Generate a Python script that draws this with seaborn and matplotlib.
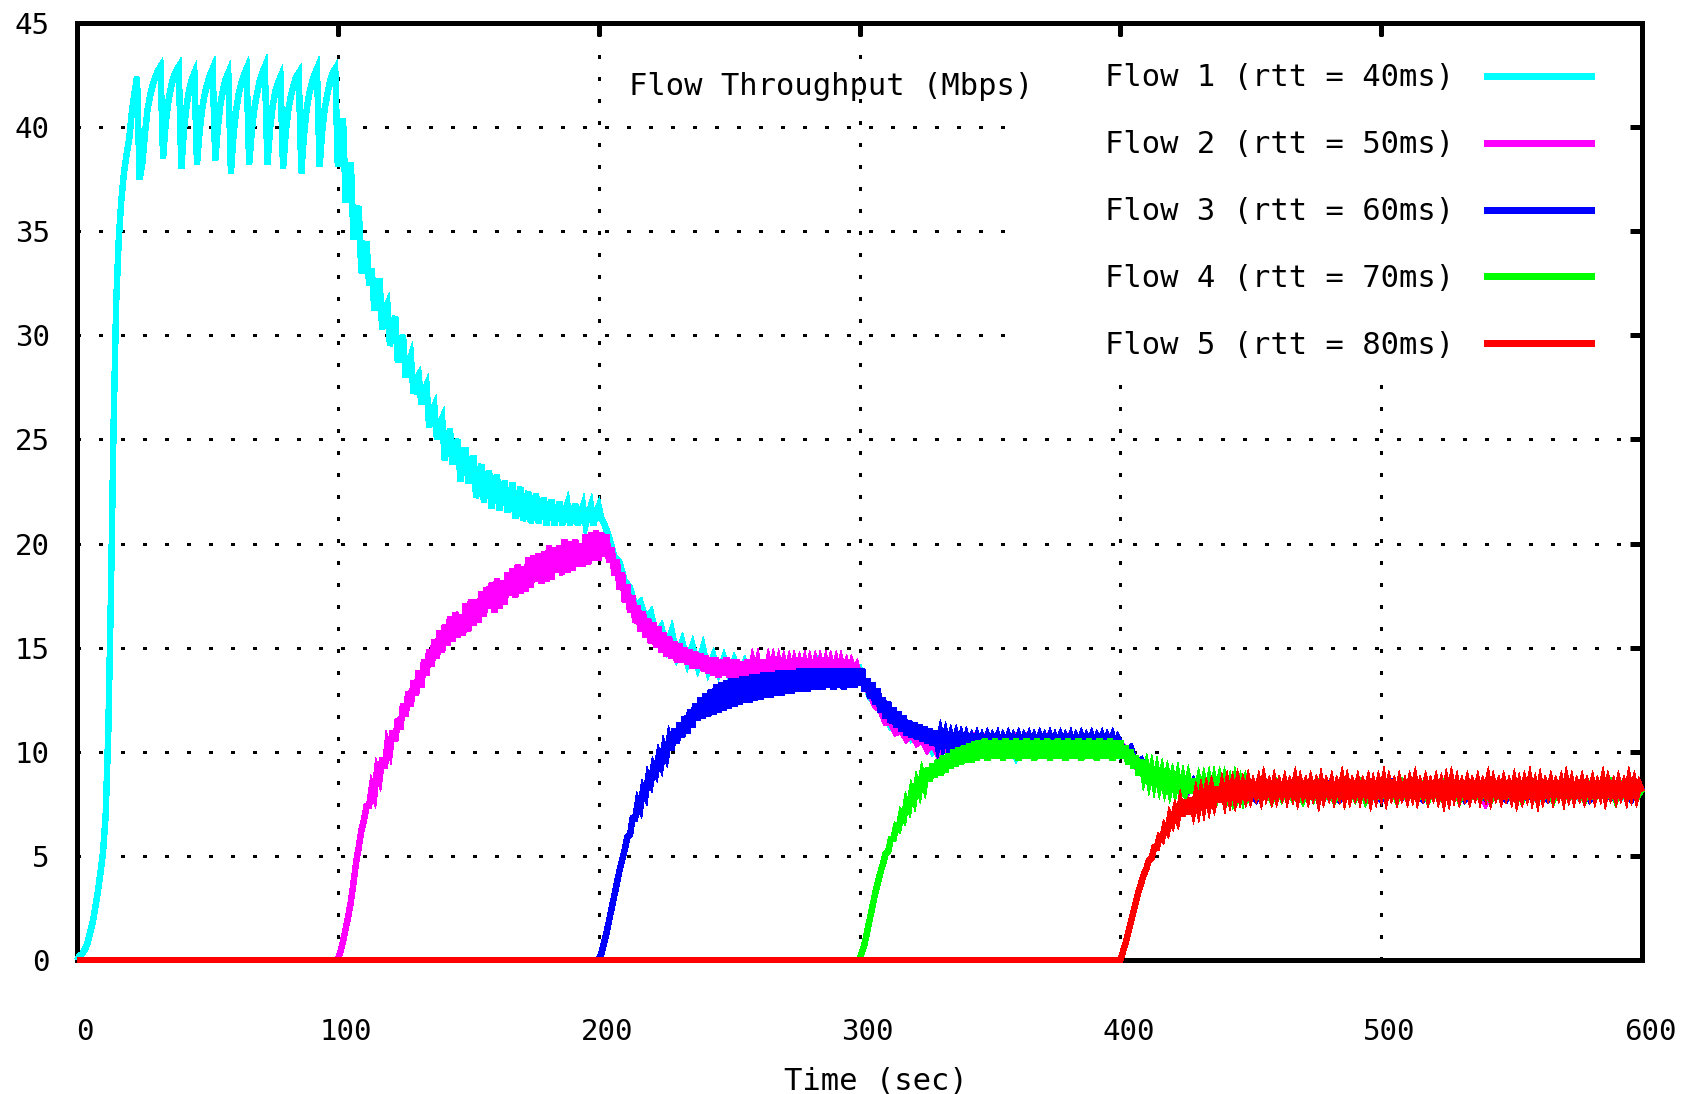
import numpy as np
import matplotlib
matplotlib.use("Agg")
import matplotlib.pyplot as plt
import matplotlib.transforms as mtransforms
from matplotlib.lines import Line2D
from matplotlib.patches import Rectangle
import seaborn as sns

# ---------------- data ----------------
FLOW_LABELS = ["Flow 1 (rtt = 40ms)", "Flow 2 (rtt = 50ms)", "Flow 3 (rtt = 60ms)",
               "Flow 4 (rtt = 70ms)", "Flow 5 (rtt = 80ms)"]
FLOW_COLORS = ["#00ffff", "#ff00ff", "#0000ff", "#00ff00", "#ff0000"]
X_TICKS = [0, 100, 200, 300, 400, 500, 600]
Y_TICKS = [0, 5, 10, 15, 20, 25, 30, 35, 40, 45]
TITLE_TEXT = "Flow Throughput (Mbps)"
X_LABEL = "Time (sec)"

# Flow 1: t = 0..202 every 1 s
FLOW1_A = [
    0.0, 0.2, 0.3, 0.5, 0.8, 1.3, 1.8, 2.5, 3.3, 4.2, 5.2, 7.0, 11.0, 17.5, 25.5, 31.5,
    34.6, 36.5, 37.8, 38.7, 39.4, 40.7, 41.6, 42.4,
    37.5, 38.2, 39.6, 40.8, 41.5, 42.0, 42.4, 42.7, 42.9,
    38.5, 40.2, 41.2, 41.9, 42.4, 42.7, 42.9,
    38.0, 39.9, 41.0, 41.8, 42.3, 42.6,
    38.2, 39.8, 40.9, 41.6, 42.1, 42.5, 42.8,
    38.4, 40.0, 41.1, 41.8, 42.3, 42.6,
    37.8, 39.6, 40.8, 41.6, 42.1, 42.5, 42.8,
    38.2, 39.8, 40.9, 41.6, 42.2, 42.6, 42.9,
    38.2, 39.9, 41.0, 41.7, 42.1, 42.4,
    38.0, 39.7, 40.8, 41.5, 42.0, 42.4, 42.6,
    37.8, 39.6, 40.8, 41.6, 42.1, 42.5, 42.8,
    38.1, 39.8, 40.9, 41.6, 42.2, 42.6, 42.8,
    38.1, 39.8, 40.4, 36.4, 37.5, 38.3, 34.6, 35.6, 36.2, 33.0,
    34.0, 34.5, 32.4, 33.2, 31.2, 32.2, 32.7, 30.3, 31.2, 31.5,
    29.5, 30.5, 30.9, 28.7, 29.6, 30.0, 28.0, 28.6, 29.0, 27.2,
    27.9, 28.1, 26.7, 27.3, 27.6, 25.6, 26.3, 26.6, 25.0, 25.7,
    26.0, 24.0, 24.9, 25.5, 23.8, 24.6, 25.0, 23.0, 24.0, 24.6,
    22.9, 23.6, 24.2, 22.2, 23.2, 23.8, 22.0, 23.0, 23.5, 21.7,
    22.7, 23.3, 21.6, 22.4, 23.0, 21.5, 22.3, 22.9, 21.2, 22.1,
    22.7, 21.1, 21.9, 22.5, 21.0, 21.8, 22.4, 21.0, 21.7, 22.2,
    20.9, 21.6, 22.1, 20.9, 21.5, 22.0, 20.9, 21.5, 21.9, 20.9,
    21.4, 21.9, 20.9, 21.4, 21.8, 20.9, 21.4, 21.8, 20.9, 21.5,
    21.8, 21.2, 21.0,
]
# Flow 1: t = 204..260 every 2 s
FLOW1_B = [
    20.3, 19.4, 19.1, 18.2, 17.9, 17.0, 17.2, 16.4, 16.7, 15.6,
    16.0, 15.0, 15.8, 14.6, 15.3, 14.3, 15.1, 14.1, 15.0, 13.9,
    14.6, 13.8, 14.5, 13.7, 14.4, 13.7, 14.3, 13.7, 14.3,
]
# Flow 1: t = 264..600 every 4 s
FLOW1_C = [
    13.8, 14.3, 13.7, 14.2, 13.8, 14.4, 13.8, 14.2, 13.8, 14.0,
    12.6, 12.2, 11.2, 11.5, 10.6, 10.9, 10.0, 10.6, 10.0, 10.5,
    10.1, 10.6, 10.0, 10.5, 9.7, 10.5, 10.0, 10.6, 10.0, 10.5,
    10.1, 10.6, 9.9, 10.5, 9.8, 10.0, 9.2, 9.0, 8.5, 8.7,
    8.2, 8.5, 8.0, 8.4, 7.9, 8.3, 7.8, 8.3, 7.9, 8.3,
    7.8, 8.3, 7.9, 8.3, 7.8, 8.3, 7.9, 8.2, 7.8, 7.7,
    8.3, 7.9, 8.3, 7.8, 8.3, 7.9, 8.3, 7.8, 8.3, 7.9,
    8.3, 7.8, 8.3, 7.9, 7.7, 8.3, 7.9, 8.3, 7.8, 8.3,
    7.9, 8.3, 7.8, 8.3, 8.0,
]

# Flow 2: t = 100..300 every 1 s
FLOW2_A = [
    0.0, 0.4, 0.9, 1.5, 2.1, 2.8, 3.7, 4.7, 5.4, 6.2,
    6.7, 7.4, 7.4, 8.3, 7.9, 9.1, 8.7, 9.7, 9.2, 10.4,
    10.0, 11.0, 10.5, 11.6, 11.1, 12.3, 11.7, 12.9, 12.2, 13.4,
    12.7, 13.9, 13.1, 14.4, 13.7, 14.9, 14.1, 15.4, 14.5, 15.8,
    14.8, 16.1, 15.1, 16.5, 15.3, 16.7, 15.5, 16.6, 15.6, 17.1,
    15.8, 17.3, 16.1, 17.3, 16.2, 17.7, 16.5, 17.9, 16.9, 18.1,
    16.7, 18.3, 16.9, 18.2, 17.1, 18.6, 17.5, 18.8, 17.4, 19.0,
    17.6, 18.9, 17.7, 19.3, 17.9, 19.4, 18.2, 19.5, 18.1, 19.6,
    18.2, 19.9, 18.3, 19.8, 18.6, 19.9, 18.5, 20.2, 18.6, 20.1,
    18.7, 20.2, 18.9, 20.0, 18.9, 20.4, 19.0, 20.5, 19.2, 20.6,
    19.2, 20.5, 19.4, 20.4, 19.1, 19.8, 18.5, 19.2, 17.8, 18.6,
    17.2, 18.0, 16.7, 17.5, 16.2, 17.0, 15.8, 16.7, 15.5, 16.4,
    15.2, 16.2, 15.0, 16.0, 14.8, 15.7, 14.6, 15.5, 14.5, 15.3,
    14.3, 15.2, 14.3, 15.0, 14.2, 14.9, 14.0, 14.8, 14.0, 14.7,
    13.9, 14.6, 13.8, 14.5, 13.7, 14.5, 13.6, 14.4, 13.7, 14.5,
    13.6, 14.4, 13.6, 14.4, 13.5, 14.3, 13.6, 14.4, 13.6, 14.3,
    13.7, 14.3, 13.6, 14.4, 13.7, 14.3, 13.6, 14.3, 13.7, 14.3,
    13.7, 14.3, 13.8, 14.3, 13.7, 14.3, 13.8, 14.3, 13.8, 14.3,
    13.7, 14.3, 13.8, 14.3, 13.7, 14.3, 13.8, 14.3, 13.7, 14.3,
    13.8, 14.3, 13.7, 14.3, 13.8, 14.2, 13.7, 14.2, 13.8, 14.1,
    13.7,
]
# Flow 2: t = 302..440 every 2 s
FLOW2_B = [
    13.2, 12.8, 12.2, 12.0, 11.4, 11.4, 10.9, 11.0, 10.6, 10.8,
    10.4, 10.6, 10.1, 10.4, 9.9, 10.4, 9.9, 10.5, 10.0, 10.5,
    10.0, 10.6, 10.1, 10.6, 10.1, 10.6, 10.1, 10.5, 10.0, 10.6,
    10.1, 10.6, 10.0, 10.5, 10.1, 10.6, 10.0, 10.5, 10.1, 10.6,
    10.0, 10.5, 10.1, 10.6, 10.0, 10.5, 10.1, 10.6, 10.0, 10.4,
    10.1, 9.9, 9.3, 9.3, 8.8, 8.9, 8.5, 8.7, 8.3, 8.6,
    8.2, 8.5, 8.1, 8.5, 8.0, 8.4, 7.9, 8.4, 7.9, 8.4,
]
# Flow 2: t = 444..600 every 4 s
FLOW2_C = [
    7.9, 8.3, 7.8, 8.3, 7.9, 8.3, 7.8, 8.3, 7.7, 8.3,
    7.9, 8.3, 7.8, 8.3, 7.9, 8.3, 7.8, 8.4, 7.9, 8.3,
    7.8, 8.3, 7.9, 8.3, 7.5, 8.3, 7.8, 8.3, 7.9, 8.3,
    7.8, 8.3, 7.9, 8.3, 7.7, 8.3, 7.9, 8.3, 7.8, 8.2,
]

# Flow 3: t = 200..400 every 1 s
FLOW3_A = [
    0.0, 0.3, 0.8, 1.3, 1.9, 2.5, 3.1, 3.7, 4.3, 4.8,
    5.3, 5.9, 6.0, 6.8, 6.8, 7.6, 7.3, 8.2, 7.9, 8.8,
    8.5, 9.3, 9.0, 9.8, 9.4, 10.2, 9.8, 10.6, 10.1, 11.1,
    10.4, 11.4, 10.7, 11.7, 10.9, 12.0, 11.2, 12.3, 11.5, 12.6,
    11.6, 12.8, 11.7, 13.0, 11.8, 13.2, 11.9, 13.3, 12.0, 13.4,
    12.1, 13.5, 12.2, 13.5, 12.3, 13.6, 12.4, 13.6, 12.4, 13.7,
    12.5, 13.7, 12.5, 13.8, 12.6, 13.8, 12.6, 13.8, 12.7, 13.9,
    12.7, 13.9, 12.8, 13.9, 12.8, 13.9, 12.9, 14.0, 12.9, 14.0,
    12.9, 14.0, 13.0, 14.0, 13.0, 14.0, 13.0, 14.0, 13.1, 14.0,
    13.0, 14.0, 13.1, 14.0, 13.0, 14.0, 13.1, 14.0, 13.1, 14.0,
    13.2, 14.0, 12.9, 13.5, 12.6, 13.3, 12.3, 13.0, 11.9, 12.6,
    11.6, 12.4, 11.4, 12.1, 11.2, 11.9, 11.0, 11.7, 10.8, 11.5,
    10.7, 11.4, 10.6, 11.3, 10.5, 11.2, 10.4, 11.1, 10.3, 11.0,
    10.3, 10.9, 10.3, 10.85, 10.3, 10.8, 10.35, 10.8, 10.3, 10.75,
    10.3, 10.75, 10.35, 10.7, 10.4, 10.75, 10.35, 10.7, 10.4, 10.75,
    10.35, 10.7, 10.4, 10.75, 10.35, 10.7, 10.4, 10.75, 10.35, 10.7,
    10.4, 10.75, 10.35, 10.7, 10.4, 10.75, 10.35, 10.7, 10.4, 10.75,
    10.35, 10.7, 10.4, 10.75, 10.35, 10.7, 10.4, 10.75, 10.35, 10.7,
    10.4, 10.75, 10.35, 10.7, 10.4, 10.75, 10.35, 10.7, 10.4, 10.75,
    10.35, 10.7, 10.4, 10.75, 10.35, 10.7, 10.4, 10.75, 10.35, 10.65,
    10.4,
]
# Flow 3: t = 402..440 every 2 s
FLOW3_B = [
    10.0, 10.2, 9.4, 9.6, 8.9, 9.2, 8.6, 8.9, 8.4, 8.8,
    8.3, 8.7, 8.2, 8.6, 8.1, 8.6, 8.0, 8.6, 8.0, 8.6,
]
# Flow 3: t = 444..600 every 4 s
FLOW3_C = [
    7.8, 8.3, 7.7, 8.5, 7.8, 8.3, 7.7, 8.3, 7.8, 8.4,
    7.7, 8.3, 7.8, 8.3, 7.7, 8.5, 7.8, 8.3, 7.7, 8.3,
    7.8, 8.3, 7.7, 8.4, 7.8, 8.3, 7.7, 8.3, 7.8, 8.3,
    7.7, 8.3, 7.8, 8.4, 7.7, 8.3, 7.8, 8.3, 7.7, 8.3,
]

# Flow 4: t = 300..450 every 1 s
FLOW4_A = [
    0.0, 0.4, 0.8, 1.4, 2.0, 2.6, 3.2, 3.7, 4.2, 4.6,
    5.1, 5.2, 5.8, 5.8, 6.4, 6.3, 7.0, 6.8, 7.6, 7.3,
    8.1, 7.7, 8.5, 8.1, 8.9, 8.4, 9.2, 8.6, 9.4, 8.8,
    9.6, 8.9, 9.8, 9.0, 9.9, 9.2, 10.1, 9.3, 10.2, 9.4,
    10.3, 9.5, 10.4, 9.5, 10.5, 9.6, 10.5, 9.7, 10.6, 9.6,
    10.5, 9.7, 10.6, 9.7, 10.5, 9.6, 10.6, 9.7, 10.5, 9.7,
    10.6, 9.6, 10.5, 9.7, 10.6, 9.7, 10.5, 9.6, 10.6, 9.7,
    10.5, 9.7, 10.6, 9.6, 10.5, 9.7, 10.6, 9.7, 10.5, 9.6,
    10.6, 9.7, 10.5, 9.7, 10.6, 9.6, 10.5, 9.7, 10.6, 9.7,
    10.5, 9.6, 10.6, 9.7, 10.5, 9.7, 10.6, 9.6, 10.5, 9.7,
    10.5, 9.7, 10.3, 9.4, 10.1, 9.2, 9.8, 8.9, 9.6, 8.8,
    9.3, 8.6, 9.2, 8.5, 9.1, 8.4, 9.0, 8.3, 8.9, 8.2,
    8.8, 8.2, 8.8, 8.1, 8.7, 8.1, 8.7, 8.0, 8.7, 8.0,
    8.6, 8.0, 8.6, 8.0, 8.6, 7.9, 8.6, 8.0, 8.6, 7.9,
    8.6, 8.0, 8.5, 7.9, 8.6, 8.0, 8.5, 7.9, 8.5, 8.0,
    8.4,
]
# Flow 4: t = 452..600 every 2 s
FLOW4_B = [
    8.3, 7.8, 8.3, 7.7, 8.4, 7.8, 8.3, 7.8, 8.3, 7.7,
    8.3, 7.8, 8.4, 7.8, 8.3, 7.7, 8.3, 7.8, 8.3, 7.8,
    8.4, 7.7, 8.3, 7.8, 8.3, 7.8, 8.3, 7.7, 8.4, 7.8,
    8.3, 7.8, 8.3, 7.7, 8.3, 7.8, 8.4, 7.8, 8.3, 7.7,
    8.3, 7.8, 8.3, 7.8, 8.4, 7.7, 8.3, 7.8, 8.3, 7.8,
    8.3, 7.7, 8.4, 7.8, 8.3, 7.8, 8.3, 7.7, 8.3, 7.8,
    8.4, 7.8, 8.3, 7.7, 8.3, 7.8, 8.3, 7.8, 8.4, 7.7,
    8.3, 7.8, 8.3, 7.8, 8.2,
]

# Flow 5: t = 400..600 every 1 s
FLOW5_A = [
    0.0, 0.4, 0.8, 1.3, 1.8, 2.3, 2.8, 3.3, 3.7, 4.1,
    4.4, 4.8, 4.9, 5.4, 5.4, 5.9, 5.8, 6.4, 6.2, 6.9,
    6.6, 7.2, 6.8, 7.5, 6.9, 7.7, 7.0, 7.8, 7.2, 7.9,
    7.3, 8.0, 7.4, 8.1, 7.5, 8.2, 7.6, 8.3, 7.6, 8.3,
    7.7, 8.4, 7.8, 8.4, 7.8, 8.5, 7.9, 8.4, 7.9, 8.5,
    7.9, 8.4, 8.0, 8.5, 7.9, 8.6, 8.0, 8.4, 7.9, 8.5,
    7.9, 8.4, 8.0, 8.5, 7.9, 8.4, 8.0, 8.6, 7.9, 8.5,
    8.0, 8.4, 7.9, 8.5, 8.0, 8.4, 7.8, 8.5, 7.9, 8.4,
    8.0, 8.5, 7.9, 8.4, 8.0, 8.6, 7.9, 8.5, 7.9, 8.4,
    8.0, 8.5, 7.9, 8.4, 8.0, 8.5, 7.8, 8.4, 7.9, 8.5,
    8.0, 8.6, 7.9, 8.5, 8.0, 8.4, 7.9, 8.5, 8.0, 8.4,
    7.9, 8.5, 8.0, 8.6, 7.9, 8.4, 8.0, 8.5, 7.9, 8.4,
    8.0, 8.5, 7.9, 8.4, 7.8, 8.5, 7.9, 8.6, 8.0, 8.5,
    7.9, 8.4, 8.0, 8.5, 7.9, 8.4, 8.0, 8.5, 7.9, 8.4,
    8.0, 8.6, 7.9, 8.5, 8.0, 8.4, 7.9, 8.5, 8.0, 8.4,
    7.9, 8.5, 7.8, 8.4, 7.9, 8.5, 8.0, 8.6, 7.9, 8.4,
    7.8, 8.5, 7.9, 8.4, 8.0, 8.5, 7.9, 8.4, 8.0, 8.5,
    7.9, 8.6, 8.0, 8.5, 7.9, 8.4, 8.0, 8.5, 7.9, 8.4,
    8.0, 8.5, 7.9, 8.4, 8.0, 8.6, 7.9, 8.5, 8.0, 8.4,
    7.9, 8.5, 8.0, 8.4, 7.9, 8.6, 8.0, 8.5, 7.9, 8.4,
    8.1,
]

# segments: (start time, sampling step, values)
FLOW1_SEGMENTS = [(0, 1, FLOW1_A), (204, 2, FLOW1_B), (264, 4, FLOW1_C)]
FLOW2_SEGMENTS = [(0, 100, [0.0]), (100, 1, FLOW2_A), (302, 2, FLOW2_B), (444, 4, FLOW2_C)]
FLOW3_SEGMENTS = [(0, 200, [0.0]), (200, 1, FLOW3_A), (402, 2, FLOW3_B), (444, 4, FLOW3_C)]
FLOW4_SEGMENTS = [(0, 300, [0.0]), (300, 1, FLOW4_A), (452, 2, FLOW4_B)]
FLOW5_SEGMENTS = [(0, 400, [0.0]), (400, 1, FLOW5_A)]
ALL_SEGMENTS = [FLOW1_SEGMENTS, FLOW2_SEGMENTS, FLOW3_SEGMENTS, FLOW4_SEGMENTS, FLOW5_SEGMENTS]


def build_series(segments):
    ts, vs = [], []
    for start, step, vals in segments:
        ts.extend(start + step * np.arange(len(vals)))
        vs.extend(vals)
    return np.asarray(ts, float), np.asarray(vs, float)


# ---------------- figure ----------------
sns.set_style("white")
plt.rcParams["font.family"] = ["DejaVu Sans Mono"]
plt.rcParams["text.color"] = "black"
plt.rcParams["axes.labelcolor"] = "black"
plt.rcParams["xtick.color"] = "black"
plt.rcParams["ytick.color"] = "black"
plt.rcParams["lines.antialiased"] = False
plt.rcParams["patch.antialiased"] = False

W, H = 1696, 1094
fig = plt.figure(figsize=(W / 100, H / 100), dpi=100)
ax_l, ax_r, ax_t, ax_b = 77, 1642, 23, 960
ax = fig.add_axes([ax_l / W, 1 - ax_b / H, (ax_r - ax_l) / W, (ax_b - ax_t) / H])

for segs, color in zip(ALL_SEGMENTS, FLOW_COLORS):
    t, v = build_series(segs)
    sns.lineplot(x=t, y=v, color=color, linewidth=3.9, estimator=None, sort=False,
                 ax=ax, zorder=3, clip_on=False, solid_capstyle="butt",
                 solid_joinstyle="miter", antialiased=False)

ax.set_xlim(0, 600)
ax.set_ylim(0, 45)
ax.set_xticks(X_TICKS)
ax.set_yticks(Y_TICKS)
ax.set_xticklabels([str(x) for x in X_TICKS])
ax.set_yticklabels([str(y) for y in Y_TICKS])
ax.set_ylabel("")

ax.set_axisbelow(True)
ax.grid(True, color="black", linewidth=2.2, linestyle=(0, (1, 6.1)), antialiased=False)
ax.tick_params(axis="both", which="major", direction="in", length=9, width=3.6,
               top=True, right=True, labelsize=21, colors="black")
ax.tick_params(axis="x", pad=41.5)
ax.tick_params(axis="y", pad=19.5)
for s in ax.spines.values():
    s.set_linewidth(3.6)
    s.set_color("black")
    s.set_zorder(2.5)

# x tick labels sit slightly right of their ticks in the original
shift = mtransforms.ScaledTranslation(8 / 100, 0, fig.dpi_scale_trans)
for lbl in ax.get_xticklabels():
    lbl.set_transform(lbl.get_transform() + shift)

# opaque key area (hides the grid behind the key)
ax.add_patch(Rectangle((0.597, 0.615), 0.391, 0.370, transform=ax.transAxes,
                       facecolor="white", edgecolor="none", zorder=1))

ax.text(0.482, 0.932, TITLE_TEXT, transform=ax.transAxes, ha="center", va="center",
        fontsize=22, zorder=5)

ax.set_xlabel(X_LABEL, fontsize=22)
ax.xaxis.set_label_coords(0.5105, -0.1138)

handles = [Line2D([], [], color=c, linewidth=3.8, solid_capstyle="butt", antialiased=False)
           for c in FLOW_COLORS]
leg = ax.legend(handles, FLOW_LABELS, loc="upper left",
                bbox_to_anchor=(1105 / W, 1 - 63.5 / H), bbox_transform=fig.transFigure,
                frameon=False, markerfirst=False, handlelength=3.6, handletextpad=0.98,
                labelspacing=1.24, borderpad=0, borderaxespad=0, fontsize=22)
leg.set_zorder(5)

fig.savefig("out.png", dpi=100, facecolor="white")
